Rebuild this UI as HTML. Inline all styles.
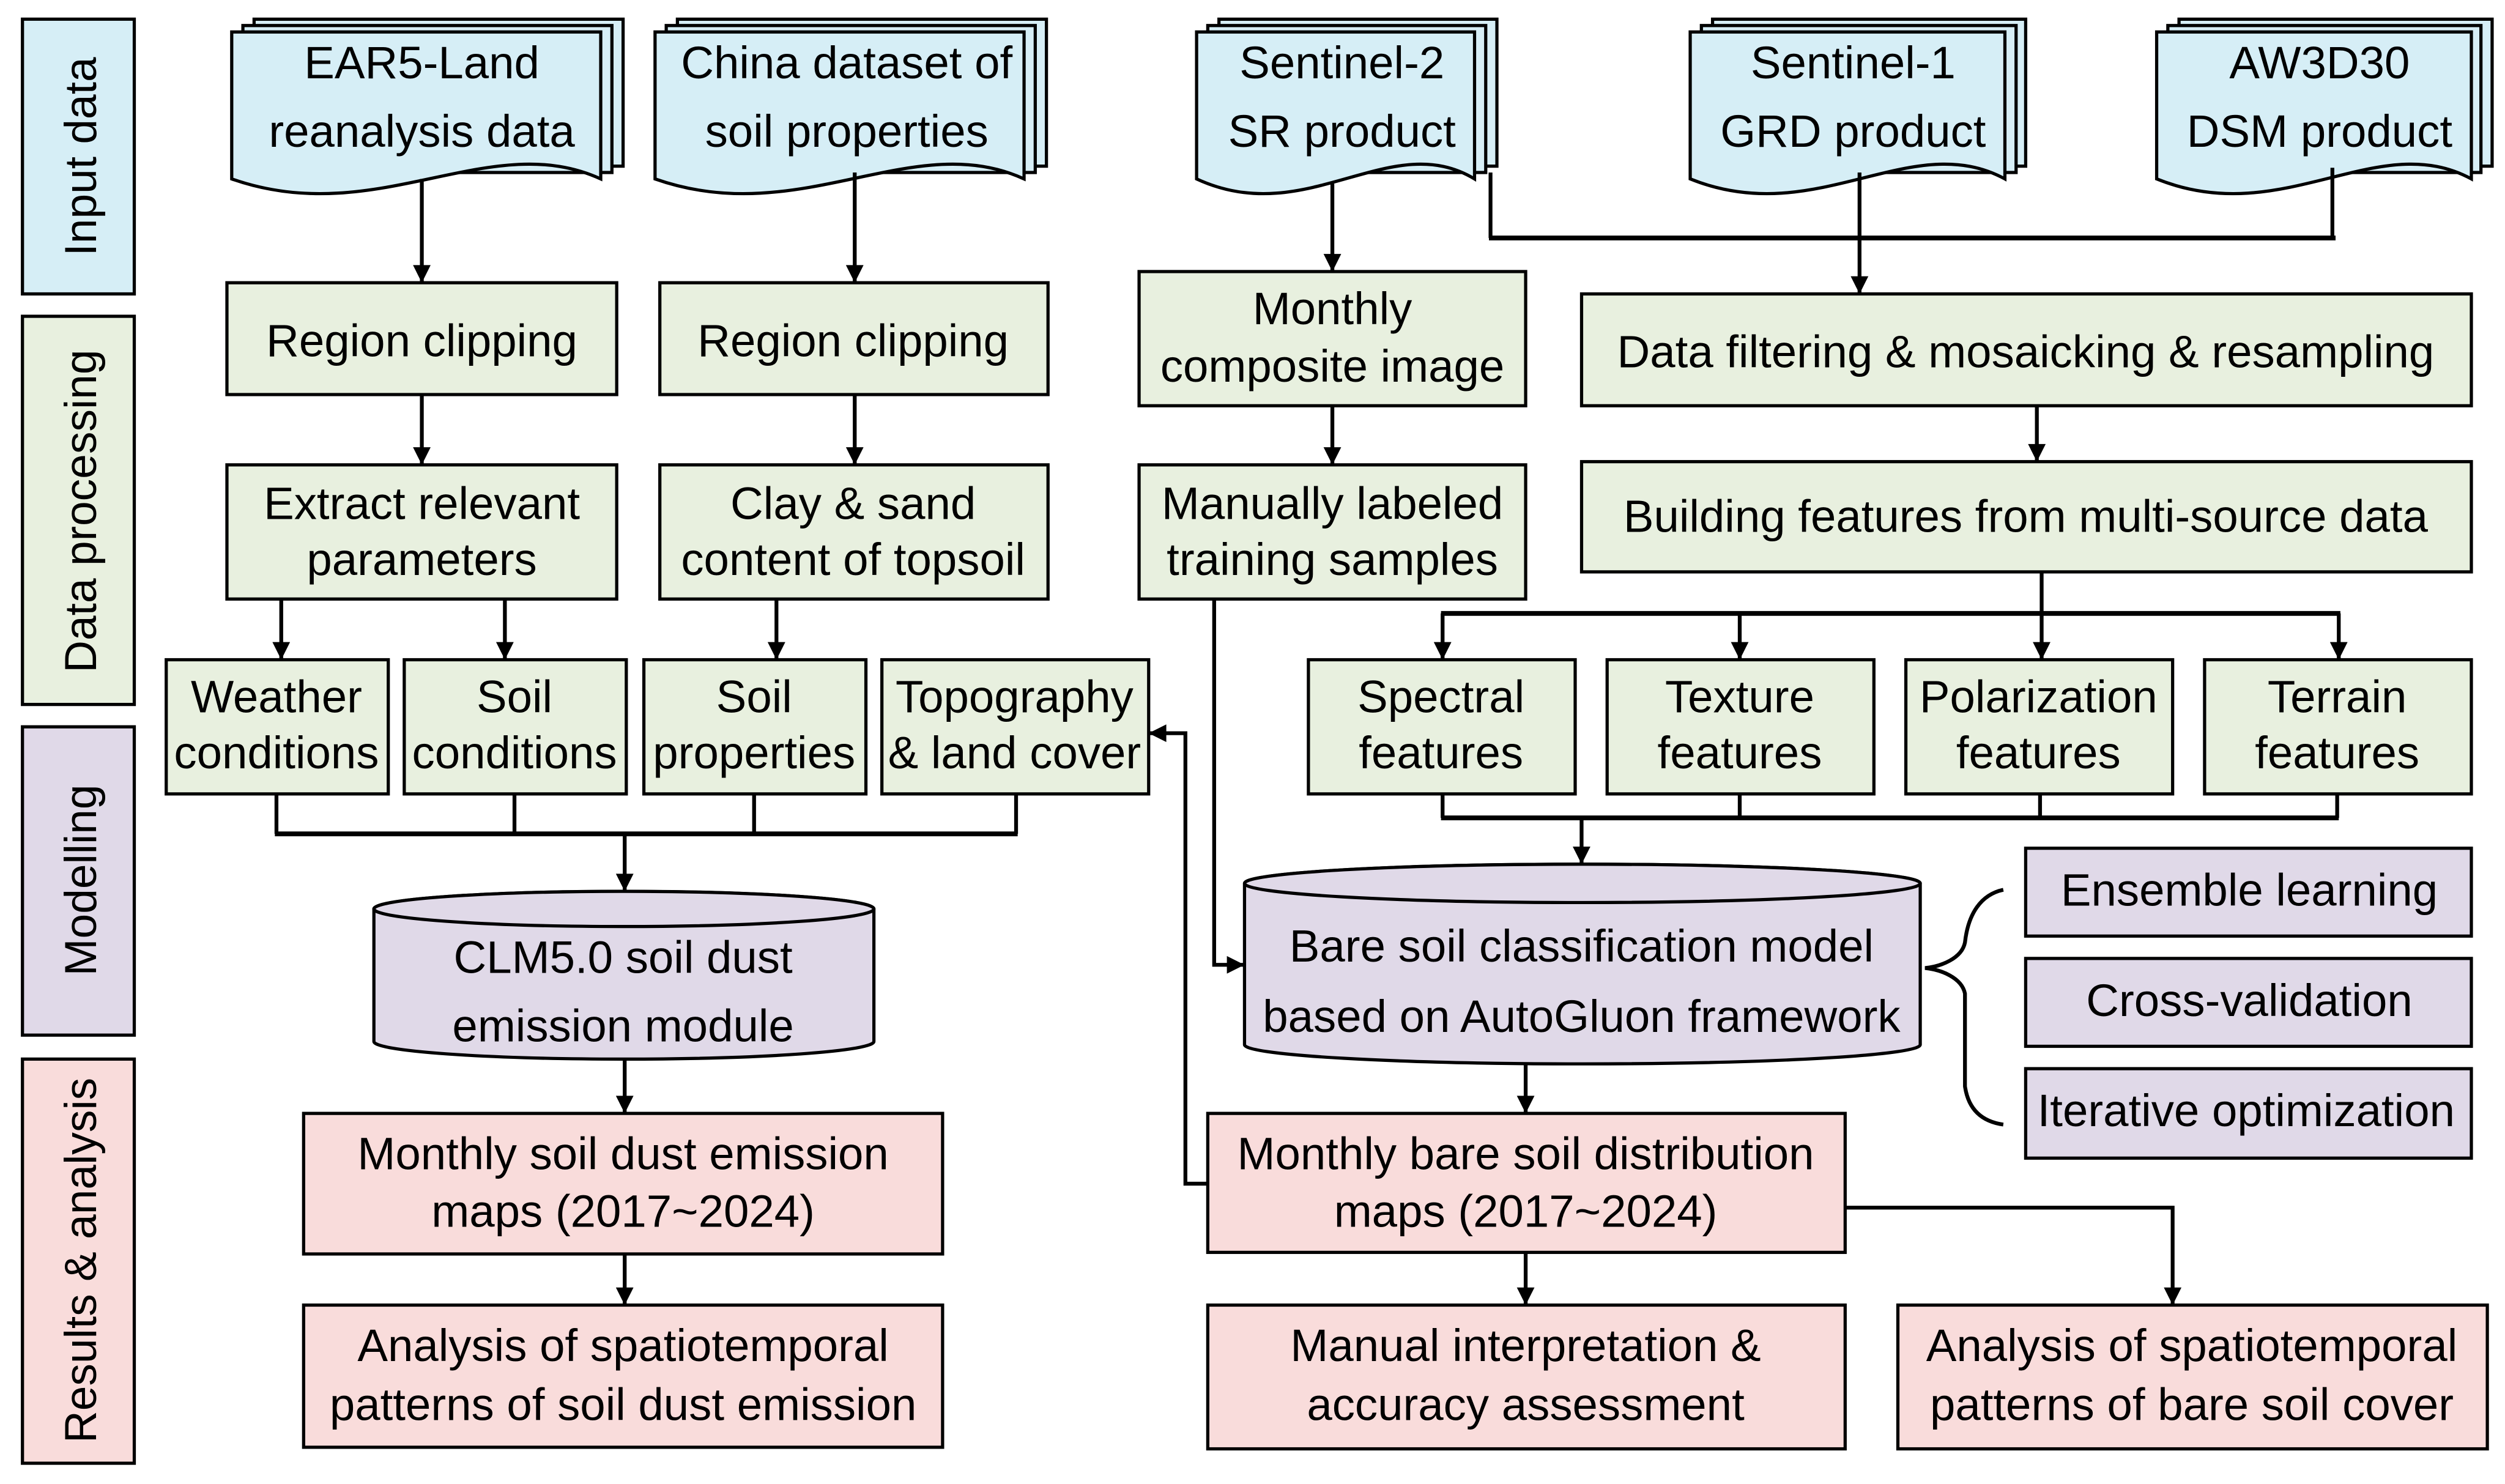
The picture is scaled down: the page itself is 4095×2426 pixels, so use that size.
<!DOCTYPE html>
<html><head><meta charset="utf-8"><style>
html,body{margin:0;padding:0;background:#fff;}
svg{display:block;}
text{font-family:"Liberation Sans",Arial,sans-serif;font-size:28.5px;fill:#000;text-anchor:middle;}
.side{font-size:28px;}
.b{stroke:#000;stroke-width:2;}
.l{stroke:#000;stroke-width:2.4;fill:none;}
.bus{stroke:#000;stroke-width:3;fill:none;}
.bl{fill:#d6eef6;} .gr{fill:#e8f0df;} .pu{fill:#e0d9e8;} .pk{fill:#f9dcdb;}
</style></head><body>
<svg width="4095" height="2426" viewBox="0 0 1568 929" xmlns="http://www.w3.org/2000/svg">
<defs>
<marker id="a" viewBox="0 0 10 10" refX="10" refY="5" markerWidth="5.5" markerHeight="4.6" orient="auto" markerUnits="strokeWidth">
<path d="M0,0 L10,5 L0,10 z" fill="#000"/></marker>
</defs>

<rect x="14" y="12" width="70" height="172" class="b bl"/>
<rect x="14" y="198" width="70" height="243" class="b gr"/>
<rect x="14" y="455" width="70" height="193" class="b pu"/>
<rect x="14" y="663" width="70" height="253" class="b pk"/>
<text class="side" transform="translate(60,98) rotate(-90)">Input data</text>
<text class="side" transform="translate(60,320) rotate(-90)">Data processing</text>
<text class="side" transform="translate(60,551) rotate(-90)">Modelling</text>
<text class="side" transform="translate(60,789) rotate(-90)">Results &amp; analysis</text>

<g class="b bl">
<path d="M159,12 H390 V104 H159 Z"/>
<path d="M152,16 H383 V108 H152 Z"/>
<path d="M145,20 H376 V112 C306,80 236,144 145,112 Z"/>
<path d="M424,12 H655 V104 H424 Z"/>
<path d="M417,16 H648 V108 H417 Z"/>
<path d="M410,20 H641 V112 C571,80 501,144 410,112 Z"/>
<path d="M763,12 H937 V104 H763 Z"/>
<path d="M756,16 H930 V108 H756 Z"/>
<path d="M749,20 H923 V112 C870,80 818,144 749,112 Z"/>
<path d="M1072,12 H1268 V104 H1072 Z"/>
<path d="M1065,16 H1262 V108 H1065 Z"/>
<path d="M1058,20 H1255 V112 C1196,80 1137,144 1058,112 Z"/>
<path d="M1364,12 H1560 V104 H1364 Z"/>
<path d="M1357,16 H1553 V108 H1357 Z"/>
<path d="M1350,20 H1547 V112 C1488,80 1429,144 1350,112 Z"/>
</g>
<text x="264" y="49">EAR5-Land</text><text x="264" y="92">reanalysis data</text>
<text x="530" y="49">China dataset of</text><text x="530" y="92">soil properties</text>
<text x="840" y="49">Sentinel-2</text><text x="840" y="92">SR product</text>
<text x="1160" y="49">Sentinel-1</text><text x="1160" y="92">GRD product</text>
<text x="1452" y="49">AW3D30</text><text x="1452" y="92">DSM product</text>

<g class="b gr">
<rect x="142" y="177" width="244" height="70"/>
<rect x="413" y="177" width="243" height="70"/>
<rect x="142" y="291" width="244" height="84"/>
<rect x="413" y="291" width="243" height="84"/>
<rect x="104" y="413" width="139" height="84"/>
<rect x="253" y="413" width="139" height="84"/>
<rect x="403" y="413" width="139" height="84"/>
<rect x="552" y="413" width="167" height="84"/>
<rect x="713" y="170" width="242" height="84"/>
<rect x="713" y="291" width="242" height="84"/>
<rect x="990" y="184" width="557" height="70"/>
<rect x="990" y="289" width="557" height="69"/>
<rect x="819" y="413" width="167" height="84"/>
<rect x="1006" y="413" width="167" height="84"/>
<rect x="1193" y="413" width="167" height="84"/>
<rect x="1380" y="413" width="167" height="84"/>
</g>
<text x="264" y="223">Region clipping</text>
<text x="534" y="223">Region clipping</text>
<text x="264" y="325">Extract relevant</text><text x="264" y="360">parameters</text>
<text x="534" y="325">Clay &amp; sand</text><text x="534" y="360">content of topsoil</text>
<text x="173" y="446">Weather</text><text x="173" y="481">conditions</text>
<text x="322" y="446">Soil</text><text x="322" y="481">conditions</text>
<text x="472" y="446">Soil</text><text x="472" y="481">properties</text>
<text x="635" y="446">Topography</text><text x="635" y="481">&amp; land cover</text>
<text x="834" y="203">Monthly</text><text x="834" y="239">composite image</text>
<text x="834" y="325">Manually labeled</text><text x="834" y="360">training samples</text>
<text x="1268" y="230">Data filtering &amp; mosaicking &amp; resampling</text>
<text x="1268" y="333">Building features from multi-source data</text>
<text x="902" y="446">Spectral</text><text x="902" y="481">features</text>
<text x="1089" y="446">Texture</text><text x="1089" y="481">features</text>
<text x="1276" y="446">Polarization</text><text x="1276" y="481">features</text>
<text x="1463" y="446">Terrain</text><text x="1463" y="481">features</text>

<path class="b pu" d="M234,569 V652 A156.5,11 0 0 0 547,652 V569 A156.5,11 0 0 0 234,569 Z"/>
<ellipse class="b pu" cx="390.5" cy="569" rx="156.5" ry="11"/>
<text x="390" y="609">CLM5.0 soil dust</text><text x="390" y="652">emission module</text>
<path class="b pu" d="M779,553 V654 A211.5,12 0 0 0 1202,654 V553 A211.5,12 0 0 0 779,553 Z"/>
<ellipse class="b pu" cx="990.5" cy="553" rx="211.5" ry="12"/>
<text x="990" y="602">Bare soil classification model</text><text x="990" y="646">based on AutoGluon framework</text>

<g class="b pu">
<rect x="1268" y="531" width="279" height="55"/>
<rect x="1268" y="600" width="279" height="55"/>
<rect x="1268" y="669" width="279" height="56"/>
</g>
<text x="1408" y="567">Ensemble learning</text>
<text x="1408" y="636">Cross-validation</text>
<text x="1406" y="705">Iterative optimization</text>
<path class="l" d="M1254,557 C1240,560 1232,572 1230,590 C1228,600 1215,605 1205,606 C1215,607 1228,612 1230,622 L1230,680 C1232,694 1240,702 1254,704"/>

<g class="b pk">
<rect x="190" y="697" width="400" height="88"/>
<rect x="190" y="817" width="400" height="89"/>
<rect x="756" y="697" width="399" height="87"/>
<rect x="756" y="817" width="399" height="90"/>
<rect x="1188" y="817" width="369" height="90"/>
</g>
<text x="390" y="732">Monthly soil dust emission</text><text x="390" y="768">maps (2017~2024)</text>
<text x="390" y="852">Analysis of spatiotemporal</text><text x="390" y="889">patterns of soil dust emission</text>
<text x="955" y="732">Monthly bare soil distribution</text><text x="955" y="768">maps (2017~2024)</text>
<text x="955" y="852">Manual interpretation &amp;</text><text x="955" y="889">accuracy assessment</text>
<text x="1372" y="852">Analysis of spatiotemporal</text><text x="1372" y="889">patterns of bare soil cover</text>

<g class="l">
<line x1="264" y1="112" x2="264" y2="177" marker-end="url(#a)"/>
<line x1="535" y1="108" x2="535" y2="177" marker-end="url(#a)"/>
<line x1="264" y1="247" x2="264" y2="291" marker-end="url(#a)"/>
<line x1="535" y1="247" x2="535" y2="291" marker-end="url(#a)"/>
<line x1="176" y1="375" x2="176" y2="413" marker-end="url(#a)"/>
<line x1="316" y1="375" x2="316" y2="413" marker-end="url(#a)"/>
<line x1="486" y1="375" x2="486" y2="413" marker-end="url(#a)"/>
<line x1="834" y1="115" x2="834" y2="170" marker-end="url(#a)"/>
<line x1="834" y1="254" x2="834" y2="291" marker-end="url(#a)"/>
<line x1="1164" y1="108" x2="1164" y2="184" marker-end="url(#a)"/>
<line x1="1275" y1="254" x2="1275" y2="289" marker-end="url(#a)"/>
<line x1="903" y1="384" x2="903" y2="413" marker-end="url(#a)"/>
<line x1="1089" y1="384" x2="1089" y2="413" marker-end="url(#a)"/>
<line x1="1278" y1="358" x2="1278" y2="413" marker-end="url(#a)"/>
<line x1="1464" y1="384" x2="1464" y2="413" marker-end="url(#a)"/>
<line x1="173" y1="497" x2="173" y2="522"/>
<line x1="322" y1="497" x2="322" y2="522"/>
<line x1="472" y1="497" x2="472" y2="522"/>
<line x1="636" y1="497" x2="636" y2="522"/>
<line x1="391" y1="522" x2="391" y2="558" marker-end="url(#a)"/>
<line x1="903" y1="497" x2="903" y2="512"/>
<line x1="1089" y1="497" x2="1089" y2="512"/>
<line x1="1277" y1="497" x2="1277" y2="512"/>
<line x1="1463" y1="497" x2="1463" y2="512"/>
<line x1="990" y1="512" x2="990" y2="541" marker-end="url(#a)"/>
<line x1="391" y1="663" x2="391" y2="697" marker-end="url(#a)"/>
<line x1="391" y1="785" x2="391" y2="817" marker-end="url(#a)"/>
<line x1="955" y1="666" x2="955" y2="697" marker-end="url(#a)"/>
<line x1="955" y1="784" x2="955" y2="817" marker-end="url(#a)"/>
<polyline points="1155,756 1360,756 1360,817" marker-end="url(#a)"/>
<polyline points="756,741 742,741 742,459 719,459" marker-end="url(#a)"/>
<polyline points="760,375 760,604 779,604" marker-end="url(#a)"/>
<line x1="1460" y1="105" x2="1460" y2="149"/>
<line x1="933" y1="108" x2="933" y2="149"/>
</g>
<g class="bus">
<line x1="932" y1="149" x2="1462" y2="149"/>
<line x1="902" y1="384" x2="1465" y2="384"/>
<line x1="172" y1="522" x2="637" y2="522"/>
<line x1="902" y1="512" x2="1464" y2="512"/>
</g>
</svg>
</body></html>
